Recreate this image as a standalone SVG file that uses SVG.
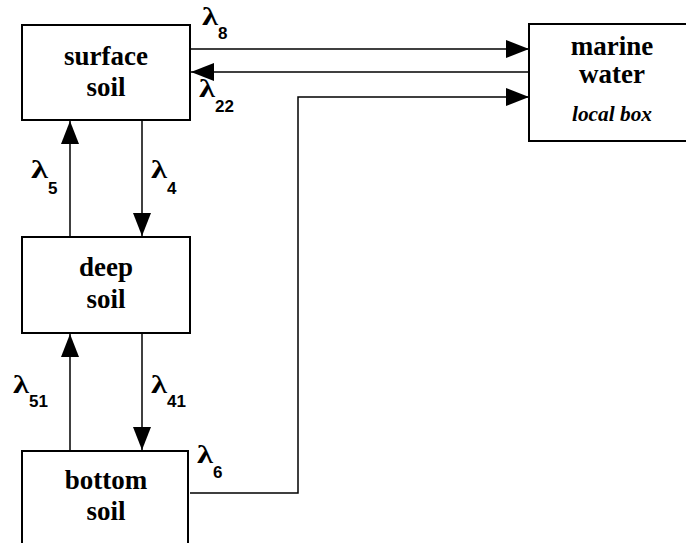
<svg xmlns="http://www.w3.org/2000/svg" width="686" height="543" viewBox="0 0 686 543">
<style>
.box{fill:#fff;stroke:#000;stroke-width:2}
.lbl{font-family:"Liberation Serif",serif;font-weight:bold;font-size:27px;text-anchor:middle;fill:#000}
.it{font-family:"Liberation Serif",serif;font-weight:bold;font-style:italic;font-size:20px;text-anchor:middle;fill:#000}
.lam{font-family:"Liberation Serif",serif;font-weight:bold;font-size:26px;fill:#000}
.sub{font-family:"Liberation Sans",sans-serif;font-weight:bold;font-size:17px;fill:#000}
.ln{fill:none;stroke:#000;stroke-width:1.5}
</style>
<defs>
<marker id="ah" viewBox="0 0 23 18" refX="23" refY="9" markerWidth="23" markerHeight="18" markerUnits="userSpaceOnUse" orient="auto">
<path d="M0,0 L23,9 L0,18 Z" fill="#000"/>
</marker>
</defs>
<g id="connectors">
<line class="ln" x1="190" y1="49" x2="529" y2="49" marker-end="url(#ah)"/>
<line class="ln" x1="529" y1="72" x2="191" y2="72" marker-end="url(#ah)"/>
<polyline class="ln" points="190,493 298,493 298,97 529,97" marker-end="url(#ah)"/>
<line class="ln" x1="70" y1="237" x2="70" y2="121" marker-end="url(#ah)"/>
<line class="ln" x1="142" y1="120" x2="142" y2="236" marker-end="url(#ah)"/>
<line class="ln" x1="70" y1="451" x2="70" y2="334" marker-end="url(#ah)"/>
<line class="ln" x1="142" y1="333" x2="142" y2="450" marker-end="url(#ah)"/>
<text class="lam" x="202" y="25" textLength="16" lengthAdjust="spacingAndGlyphs">λ</text><text class="sub" x="218" y="39">8</text>
<text class="lam" x="199" y="97" textLength="16" lengthAdjust="spacingAndGlyphs">λ</text><text class="sub" x="215" y="112">22</text>
<text class="lam" x="31" y="178" textLength="17" lengthAdjust="spacingAndGlyphs">λ</text><text class="sub" x="48" y="194">5</text>
<text class="lam" x="151" y="178" textLength="16" lengthAdjust="spacingAndGlyphs">λ</text><text class="sub" x="167" y="194">4</text>
<text class="lam" x="13" y="393" textLength="16" lengthAdjust="spacingAndGlyphs">λ</text><text class="sub" x="29" y="407">51</text>
<text class="lam" x="151" y="393" textLength="16" lengthAdjust="spacingAndGlyphs">λ</text><text class="sub" x="167" y="407">41</text>
<text class="lam" x="197" y="463" textLength="16" lengthAdjust="spacingAndGlyphs">λ</text><text class="sub" x="213" y="478">6</text>
</g>
<g id="surface-soil">
<rect class="box" x="22" y="25" width="168" height="95"/>
<text class="lbl" x="106" y="65">surface</text>
<text class="lbl" x="106" y="96">soil</text>
</g>
<g id="marine-water">
<rect class="box" x="529" y="24" width="170" height="117"/>
<text class="lbl" x="612" y="55">marine</text>
<text class="lbl" x="612" y="83">water</text>
<text class="it" x="612" y="121" textLength="80" lengthAdjust="spacingAndGlyphs">local box</text>
</g>
<g id="deep-soil">
<rect class="box" x="22" y="237" width="168" height="96"/>
<text class="lbl" x="106" y="276">deep</text>
<text class="lbl" x="106" y="308">soil</text>
</g>
<g id="bottom-soil">
<rect class="box" x="22" y="451" width="166" height="100"/>
<text class="lbl" x="106" y="489">bottom</text>
<text class="lbl" x="106" y="520">soil</text>
</g>
</svg>
